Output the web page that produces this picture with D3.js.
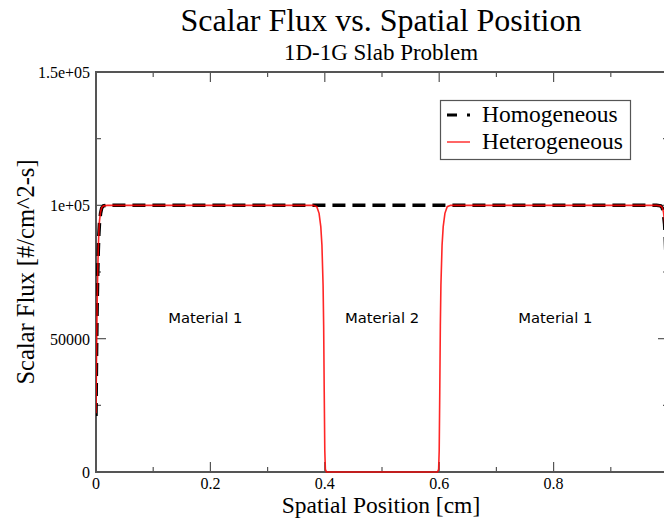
<!DOCTYPE html>
<html>
<head>
<meta charset="utf-8">
<script src="https://cdn.jsdelivr.net/npm/d3@7"></script>
<style>
  body { margin: 0; background: #fff; }
  svg { display: block; }
</style>
</head>
<body>
<div id="chart"></div>
<script>
// x positions [cm] and flux values
const homX = [0, 0.001, 0.002, 0.003, 0.004, 0.005, 0.006, 0.008, 0.010, 0.013, 0.02,
  0.5, 0.98, 0.987, 0.99, 0.992, 0.994, 0.995, 0.996, 0.997, 0.998, 0.999, 1.0];
const homY = [21000, 45000, 62000, 74000, 83000, 89000, 93000, 97000, 99000, 99800, 100000,
  100000, 100000, 99800, 99000, 97000, 93000, 89000, 83000, 74000, 62000, 45000, 21000];

const hetX = [0, 0.001, 0.002, 0.003, 0.004, 0.005, 0.006, 0.008, 0.010, 0.013, 0.02,
  0.38, 0.386, 0.390, 0.393, 0.395, 0.397, 0.398, 0.399, 0.400, 0.401, 0.403,
  0.597, 0.599, 0.600, 0.601, 0.602, 0.603, 0.605, 0.607, 0.610, 0.614, 0.62,
  0.98, 0.987, 0.99, 0.992, 0.994, 0.995, 0.996, 0.997, 0.998, 0.999, 1.0];
const hetY = [22000, 46000, 63000, 75000, 84000, 90000, 94000, 97500, 99200, 99800, 100000,
  100000, 99500, 97000, 92000, 85000, 70000, 55000, 30000, 8000, 1000, 0,
  0, 1000, 8000, 30000, 55000, 70000, 85000, 92000, 97000, 99500, 100000,
  100000, 99800, 99200, 97500, 94000, 90000, 84000, 75000, 63000, 46000, 22000];

const xTicks = [0, 0.2, 0.4, 0.6, 0.8];
const xMinor = [0.1, 0.3, 0.5, 0.7, 0.9];
const yTicks = [0, 50000, 100000, 150000];
const yTickLabels = ["0", "50000", "1e+05", "1.5e+05"];
const yMinor = [25000, 75000, 125000];

const regionLabels = ["Material 1", "Material 2", "Material 1"];
const regionX = [0.191, 0.5, 0.803];

const width = 664, height = 519;
const margin = {left: 96, right: -4, top: 72, bottom: 47};

const svg = d3.select('#chart').append('svg')
    .attr('width', width)
    .attr('height', height);

const x = d3.scaleLinear().domain([0, 1]).range([margin.left, width - margin.right]);
const y = d3.scaleLinear().domain([0, 150000]).range([height - margin.bottom, margin.top]);

const serif = "'Liberation Serif', 'Times New Roman', serif";
const axisColor = '#555';

// clip for data lines
svg.append('clipPath').attr('id', 'plotclip')
  .append('rect')
    .attr('x', x(0)).attr('y', y(150000))
    .attr('width', x(1) - x(0)).attr('height', y(0) - y(150000) + 1);

// ticks (pointing inward, on all four sides)
function drawTicks(g, vals, len, horizontal) {
  vals.forEach(v => {
    if (horizontal) {
      g.append('line').attr('x1', x(v)).attr('x2', x(v))
        .attr('y1', y(0)).attr('y2', y(0) - len);
      g.append('line').attr('x1', x(v)).attr('x2', x(v))
        .attr('y1', y(150000)).attr('y2', y(150000) + len);
    } else {
      g.append('line').attr('y1', y(v)).attr('y2', y(v))
        .attr('x1', x(0)).attr('x2', x(0) + len);
      g.append('line').attr('y1', y(v)).attr('y2', y(v))
        .attr('x1', x(1)).attr('x2', x(1) - len);
    }
  });
}
const tickG = svg.append('g').attr('stroke', axisColor).attr('stroke-width', 1.2);
drawTicks(tickG, xTicks.concat([1]), 10, true);
drawTicks(tickG, xMinor, 5, true);
drawTicks(tickG, yTicks, 10, false);
drawTicks(tickG, yMinor, 5, false);

// frame
svg.append('rect')
    .attr('x', x(0)).attr('y', y(150000))
    .attr('width', x(1) - x(0)).attr('height', y(0) - y(150000))
    .attr('fill', 'none')
    .attr('stroke', axisColor)
    .attr('stroke-width', 2);

// data lines
const line = d3.line().x(d => x(d[0])).y(d => y(d[1]));
const linesG = svg.append('g').attr('clip-path', 'url(#plotclip)');

linesG.append('path')
    .datum(d3.zip(homX, homY))
    .attr('d', line)
    .attr('fill', 'none')
    .attr('stroke', '#000')
    .attr('stroke-width', 3.5)
    .attr('stroke-dasharray', '13,7');

linesG.append('path')
    .datum(d3.zip(hetX, hetY))
    .attr('d', line)
    .attr('fill', 'none')
    .attr('stroke', '#ff0000')
    .attr('stroke-opacity', 0.85)
    .attr('stroke-width', 1.6);

// tick labels
svg.append('g').selectAll('text')
  .data(xTicks)
  .enter().append('text')
    .attr('x', d => x(d))
    .attr('y', y(0) + 17)
    .attr('text-anchor', 'middle')
    .attr('font-family', serif)
    .attr('font-size', 16)
    .text(d => d === 0 ? '0' : d3.format('.1f')(d));

svg.append('g').selectAll('text')
  .data(yTicks)
  .enter().append('text')
    .attr('x', x(0) - 6)
    .attr('y', d => y(d) + 6)
    .attr('text-anchor', 'end')
    .attr('font-family', serif)
    .attr('font-size', 16)
    .text((d, i) => yTickLabels[i]);

// titles
const cx = (x(0) + 666) / 2;
svg.append('text')
    .attr('x', cx).attr('y', 31)
    .attr('text-anchor', 'middle')
    .attr('font-family', serif)
    .attr('font-size', 32)
    .text('Scalar Flux vs. Spatial Position');

svg.append('text')
    .attr('x', cx).attr('y', 60)
    .attr('text-anchor', 'middle')
    .attr('font-family', serif)
    .attr('font-size', 23)
    .text('1D-1G Slab Problem');

svg.append('text')
    .attr('x', cx).attr('y', 513)
    .attr('text-anchor', 'middle')
    .attr('font-family', serif)
    .attr('font-size', 23.5)
    .text('Spatial Position [cm]');

svg.append('text')
    .attr('transform', `translate(34, ${(y(0) + y(150000)) / 2}) rotate(-90)`)
    .attr('text-anchor', 'middle')
    .attr('font-family', serif)
    .attr('font-size', 24.5)
    .text('Scalar Flux [#/cm^2-s]');

// region labels
svg.append('g').selectAll('text')
  .data(regionLabels)
  .enter().append('text')
    .attr('x', (d, i) => x(regionX[i]))
    .attr('y', 323)
    .attr('text-anchor', 'middle')
    .attr('font-family', "'DejaVu Sans', sans-serif")
    .attr('font-size', 14.8)
    .text(d => d);

// legend
const legend = svg.append('g');
legend.append('rect')
    .attr('x', 440.5).attr('y', 100.5)
    .attr('width', 190).attr('height', 59)
    .attr('fill', '#fff')
    .attr('stroke', axisColor)
    .attr('stroke-width', 1.2);
legend.append('line')
    .attr('x1', 447).attr('x2', 470).attr('y1', 115).attr('y2', 115)
    .attr('stroke', '#000').attr('stroke-width', 3)
    .attr('stroke-dasharray', '10,10');
legend.append('line')
    .attr('x1', 447).attr('x2', 470).attr('y1', 142).attr('y2', 142)
    .attr('stroke', '#ff0000').attr('stroke-width', 1.2);
legend.append('text')
    .attr('x', 482).attr('y', 122)
    .attr('font-family', serif).attr('font-size', 23.5)
    .text('Homogeneous');
legend.append('text')
    .attr('x', 482).attr('y', 149)
    .attr('font-family', serif).attr('font-size', 23.5)
    .text('Heterogeneous');
</script>
</body>
</html>
